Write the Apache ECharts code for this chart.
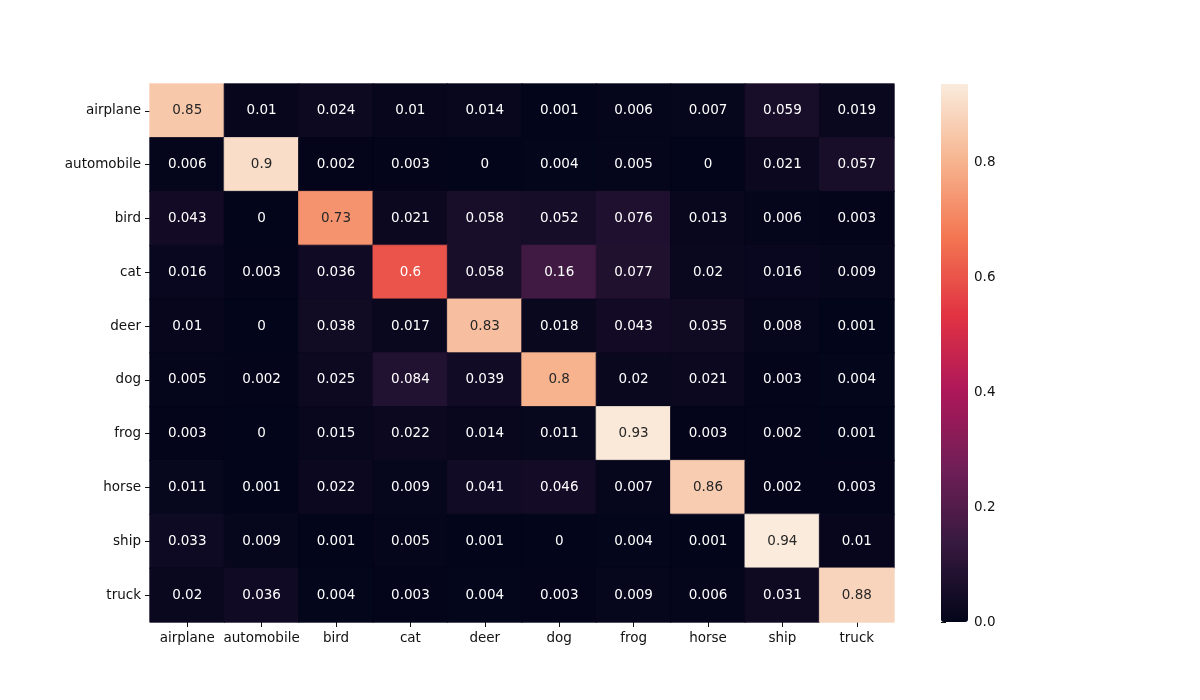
<!DOCTYPE html>
<html>
<head>
<meta charset="utf-8">
<script src="https://cdn.jsdelivr.net/npm/echarts@6/dist/echarts.min.js"></script>
<style>
  html, body { margin: 0; padding: 0; background: #fff; }
  #main { width: 1200px; height: 700px; }
</style>
</head>
<body>
<div id="main"></div>
<script>
var classes = ['airplane', 'automobile', 'bird', 'cat', 'deer', 'dog', 'frog', 'horse', 'ship', 'truck'];

// rows = true class, columns = predicted class
var airplane   = [0.85, 0.01, 0.024, 0.01, 0.014, 0.001, 0.006, 0.007, 0.059, 0.019];
var automobile = [0.006, 0.9, 0.002, 0.003, 0, 0.004, 0.005, 0, 0.021, 0.057];
var bird       = [0.043, 0, 0.73, 0.021, 0.058, 0.052, 0.076, 0.013, 0.006, 0.003];
var cat        = [0.016, 0.003, 0.036, 0.6, 0.058, 0.16, 0.077, 0.02, 0.016, 0.009];
var deer       = [0.01, 0, 0.038, 0.017, 0.83, 0.018, 0.043, 0.035, 0.008, 0.001];
var dog        = [0.005, 0.002, 0.025, 0.084, 0.039, 0.8, 0.02, 0.021, 0.003, 0.004];
var frog       = [0.003, 0, 0.015, 0.022, 0.014, 0.011, 0.93, 0.003, 0.002, 0.001];
var horse      = [0.011, 0.001, 0.022, 0.009, 0.041, 0.046, 0.007, 0.86, 0.002, 0.003];
var ship       = [0.033, 0.009, 0.001, 0.005, 0.001, 0, 0.004, 0.001, 0.94, 0.01];
var truck      = [0.02, 0.036, 0.004, 0.003, 0.004, 0.003, 0.009, 0.006, 0.031, 0.88];
var rows = [airplane, automobile, bird, cat, deer, dog, frog, horse, ship, truck];

var colorTicks = [0, 0.2, 0.4, 0.6, 0.8];
var vmax = 0.936;

// seaborn "rocket" colormap, resampled evenly
var rocketStops = [
  [0, '#03051a'], [1 / 7, '#35193e'], [2 / 7, '#701f57'], [3 / 7, '#ad1759'],
  [4 / 7, '#e13342'], [5 / 7, '#f37651'], [6 / 7, '#f6b48f'], [1, '#faebdd']
];
function hex(c) { return [1, 3, 5].map(function (i) { return parseInt(c.substr(i, 2), 16); }); }
function rocket(t) {
  t = Math.max(0, Math.min(1, t));
  for (var i = 1; i < rocketStops.length; i++) {
    if (t <= rocketStops[i][0]) {
      var a = rocketStops[i - 1], b = rocketStops[i];
      var f = (t - a[0]) / (b[0] - a[0]);
      var ca = hex(a[1]), cb = hex(b[1]);
      return 'rgb(' + ca.map(function (v, k) { return Math.round(v + (cb[k] - v) * f); }).join(',') + ')';
    }
  }
  return rocketStops[rocketStops.length - 1][1];
}
var palette = [];
for (var i = 0; i <= 70; i++) palette.push(rocket(i / 70));

var data = [];
rows.forEach(function (row, r) {
  row.forEach(function (v, c) {
    data.push({
      value: [c, r, v],
      itemStyle: { borderWidth: 0.8, borderColor: rocket(v / vmax) },
      label: { color: v / vmax > 0.7 ? '#262626' : '#ffffff' }
    });
  });
});

var myChart = echarts.init(document.getElementById('main'));
var font = 'DejaVu Sans';
myChart.setOption({
  backgroundColor: '#fff',
  animation: false,
  textStyle: { fontFamily: font },
  grid: [
    { left: 150, right: 306, top: 84, bottom: 78 },
    { left: 941, width: 27, top: 84, height: 538 }
  ],
  xAxis: [{
    type: 'category', data: classes, gridIndex: 0,
    axisLine: { show: false },
    axisTick: { show: true, length: 5, interval: 0, alignWithLabel: true, lineStyle: { color: '#111' } },
    axisLabel: { color: '#111', fontSize: 13.5, margin: 9, interval: 0, fontFamily: font },
    splitArea: { show: false }
  }, {
    type: 'value', gridIndex: 1, show: false
  }],
  yAxis: [{
    type: 'category', data: classes, gridIndex: 0, inverse: true,
    axisLine: { show: false },
    axisTick: { show: true, length: 5, interval: 0, alignWithLabel: true, lineStyle: { color: '#111' } },
    axisLabel: { color: '#111', fontSize: 13.5, margin: 9, interval: 0, fontFamily: font },
    splitArea: { show: false }
  }, {
    type: 'value', gridIndex: 1, position: 'right', min: 0, max: vmax, interval: 0.2,
    axisLine: { show: false },
    splitLine: { show: false },
    axisTick: { show: true, length: 5, lineStyle: { color: '#111' } },
    axisLabel: {
      color: '#111', fontSize: 13.5, margin: 6, fontFamily: font, showMaxLabel: false,
      formatter: function (v) { return colorTicks.indexOf(Math.round(v * 10) / 10) >= 0 ? v.toFixed(1) : ''; }
    }
  }],
  visualMap: {
    type: 'continuous',
    min: 0, max: vmax,
    calculable: false,
    hoverLink: false,
    orient: 'vertical',
    left: 941, top: 84,
    itemWidth: 27, itemHeight: 538,
    padding: 0,
    text: null,
    showLabel: false,
    indicatorSize: 0,
    handleSize: 0,
    seriesIndex: 0,
    inRange: { color: palette }
  },
  series: [{
    type: 'heatmap',
    xAxisIndex: 0, yAxisIndex: 0,
    data: data,
    label: {
      show: true, fontSize: 13.5, fontFamily: font,
      formatter: function (p) { return String(p.value[2]); }
    },
    emphasis: { disabled: true }
  }]
});
</script>
</body>
</html>
